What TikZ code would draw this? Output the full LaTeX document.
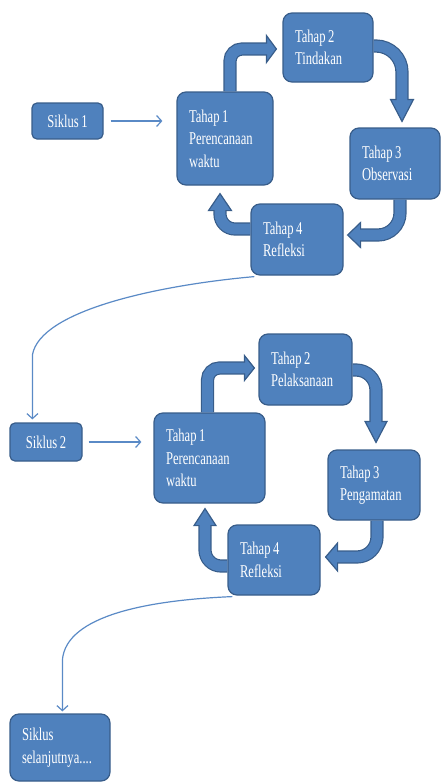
\documentclass[tikz,border=0pt]{standalone}
\usepackage{fontspec}
\setmainfont{Liberation Serif}[FakeStretch=0.70, WordSpace=0.8]
\usetikzlibrary{arrows.meta,calc}
\definecolor{blu}{HTML}{4F81BD}
\definecolor{bdr}{HTML}{385D8A}
\definecolor{thinblu}{HTML}{5A8AC6}
\tikzset{
  boxbase/.style={rectangle, fill=blu, draw=bdr, line width=1.2pt, text=white,
    font=\fontsize{18}{22.4}\selectfont},
  stage/.style 2 args={boxbase, rounded corners=9pt, align=flush left, inner xsep=12pt,
    inner ysep=0pt, text width=#1, minimum height=#2},
  siklus/.style 2 args={boxbase, rounded corners=5pt, align=center, inner sep=0pt,
    minimum width=#1, minimum height=#2},
  thinarrow/.style={draw=thinblu, line width=1.2pt, -{Straight Barb[length=5pt,width=11pt]}},
  shaftout/.style={draw=bdr, line width=13.2pt},
  shaftin/.style={draw=blu, line width=10.8pt},
  headsty/.style={fill=blu, draw=bdr, line width=1.2pt, line join=miter},
}
\begin{document}
\begin{tikzpicture}[x=1pt,y=-1pt]
\useasboundingbox (0,0) rectangle (441,782);

% ---------- cycle 1 ----------
\node[siklus={71pt}{36pt}] (s1) at (67.5,121) {Siklus 1};
\node[stage={72pt}{93pt}] (t1a) at (225,138.5) {Tahap 1\\Perencanaan\\waktu};
\node[stage={66pt}{69pt}] (t2a) at (328,47.5) {Tahap 2\\Tindakan};
\node[stage={66pt}{71pt}] (t3a) at (395,163.5) {Tahap 3\\Observasi};
\node[stage={68pt}{71pt}] (t4a) at (297,239.5) {Tahap 4\\Refleksi};

% ---------- cycle 2 ----------
\node[siklus={72pt}{38pt}] (s2) at (46,442) {Siklus 2};
\node[stage={87pt}{90pt}] (t1b) at (209.5,458) {Tahap 1\\Perencanaan\\waktu};
\node[stage={69pt}{71pt}] (t2b) at (305.5,369.5) {Tahap 2\\Pelaksanaan};
\node[stage={68pt}{70pt}] (t3b) at (374,485) {Tahap 3\\Pengamatan};
\node[stage={68pt}{70pt}] (t4b) at (274,560) {Tahap 4\\Refleksi};

% ---------- next ----------
\node[stage={76pt}{67pt}] (s3) at (60,747.5) {Siklus\\selanjutnya....};

% ---------- thin connectors ----------
\draw[thinarrow, shorten <=7pt, shorten >=14pt] (s1.east) -- (s1.east -| t1a.west);
\draw[thinarrow, shorten <=6pt, shorten >=12pt] (s2.east) -- (s2.east -| t1b.west);

\coordinate (c1s) at ($(t4a.south west)+(4,1)$);
\coordinate (c1e) at ($(s2.north west)+(23,-3)$);
\draw[thinarrow] (c1s) .. controls (160,285) and (40,310) .. (c1e |- 0,355) -- (c1e);

\coordinate (c2s) at ($(t4b.south west)+(5,1)$);
\coordinate (c2e) at ($(s3.north west)+(53,-2)$);
\draw[thinarrow] (c2s) .. controls (150,600) and (66,615) .. (c2e |- 0,660) -- (c2e);

% ---------- block arrows cycle 1 ----------
% T1 -> T2
\coordinate (a1s) at ($(t1a.north)+(5,0)$);
\coordinate (a1t) at ($(t2a.west)+(-6,1.5)$);
\coordinate (a1b) at ($(a1t)+(-10,0)$);
\draw[shaftout, rounded corners=12pt] (a1s) |- (a1b);
\draw[headsty] (a1t) -- ($(a1b)+(0,-13.5)$) -- ($(a1b)+(0,13.5)$) -- cycle;
\draw[shaftin, rounded corners=12pt] (a1s) |- ($(a1b)+(1.5,0)$);
% T2 -> T3
\coordinate (a2s) at ($(t2a.east)+(0,-1.5)$);
\coordinate (a2t) at ($(t3a.north)+(7,-6)$);
\coordinate (a2b) at ($(a2t)+(0,-22)$);
\draw[shaftout, rounded corners=26pt] (a2s) -| (a2b);
\draw[headsty] (a2t) -- ($(a2b)+(-11.5,0)$) -- ($(a2b)+(11.5,0)$) -- cycle;
\draw[shaftin, rounded corners=26pt] (a2s) -| ($(a2b)+(0,1.5)$);
% T3 -> T4
\coordinate (a3s) at ($(t3a.south)+(5,0)$);
\coordinate (a3t) at ($(t4a.east)+(4,-4.5)$);
\coordinate (a3b) at ($(a3t)+(13,0)$);
\draw[shaftout, rounded corners=22pt] (a3s) |- (a3b);
\draw[headsty] (a3t) -- ($(a3b)+(0,-12.5)$) -- ($(a3b)+(0,12.5)$) -- cycle;
\draw[shaftin, rounded corners=22pt] (a3s) |- ($(a3b)+(-1.5,0)$);
% T4 -> T1
\coordinate (a4s) at ($(t4a.west)+(0,-10.5)$);
\coordinate (a4t) at ($(t1a.south)+(-5,8)$);
\coordinate (a4b) at ($(a4t)+(0,17)$);
\draw[shaftout, rounded corners=15pt] (a4s) -| (a4b);
\draw[headsty] (a4t) -- ($(a4b)+(-11.5,0)$) -- ($(a4b)+(11.5,0)$) -- cycle;
\draw[shaftin, rounded corners=15pt] (a4s) -| ($(a4b)+(0,-1.5)$);

% ---------- block arrows cycle 2 ----------
% T1 -> T2
\coordinate (b1s) at ($(t1b.north)+(-2,0)$);
\coordinate (b1t) at ($(t2b.west)+(-4,-1.5)$);
\coordinate (b1b) at ($(b1t)+(-10,0)$);
\draw[shaftout, rounded corners=12pt] (b1s) |- (b1b);
\draw[headsty] (b1t) -- ($(b1b)+(0,-12.5)$) -- ($(b1b)+(0,12.5)$) -- cycle;
\draw[shaftin, rounded corners=12pt] (b1s) |- ($(b1b)+(1.5,0)$);
% T2 -> T3
\coordinate (b2s) at ($(t2b.east)+(0,0.5)$);
\coordinate (b2t) at ($(t3b.north)+(2,-7)$);
\coordinate (b2b) at ($(b2t)+(0,-21)$);
\draw[shaftout, rounded corners=20pt] (b2s) -| (b2b);
\draw[headsty] (b2t) -- ($(b2b)+(-11,0)$) -- ($(b2b)+(11,0)$) -- cycle;
\draw[shaftin, rounded corners=20pt] (b2s) -| ($(b2b)+(0,1.5)$);
% T3 -> T4
\coordinate (b3s) at ($(t3b.south)+(3,0)$);
\coordinate (b3t) at ($(t4b.east)+(5,-3)$);
\coordinate (b3b) at ($(b3t)+(12,0)$);
\draw[shaftout, rounded corners=20pt] (b3s) |- (b3b);
\draw[headsty] (b3t) -- ($(b3b)+(0,-14)$) -- ($(b3b)+(0,14)$) -- cycle;
\draw[shaftin, rounded corners=20pt] (b3s) |- ($(b3b)+(-1.5,0)$);
% T4 -> T1
\coordinate (b4s) at ($(t4b.west)+(0,6)$);
\coordinate (b4t) at ($(t1b.south)+(-4.5,5)$);
\coordinate (b4b) at ($(b4t)+(0,17)$);
\draw[shaftout, rounded corners=16pt] (b4s) -| (b4b);
\draw[headsty] (b4t) -- ($(b4b)+(-11,0)$) -- ($(b4b)+(11,0)$) -- cycle;
\draw[shaftin, rounded corners=16pt] (b4s) -| ($(b4b)+(0,-1.5)$);
\end{tikzpicture}
\end{document}
